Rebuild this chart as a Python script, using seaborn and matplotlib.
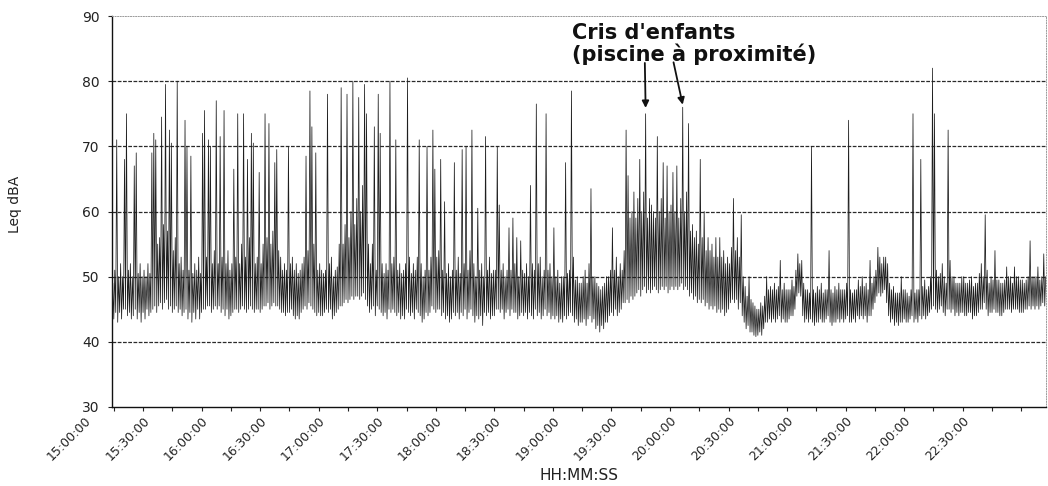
import numpy as np
import pandas as pd
import matplotlib
matplotlib.use("Agg")
import matplotlib.pyplot as plt
import seaborn as sns
from matplotlib.transforms import ScaledTranslation

# Per-minute Leq maxima and minima (dBA), starting at 15:14, grouped by half hour
max_1514 = [49, 51, 71, 50, 52, 50, 68, 75, 51, 52, 50, 67, 69, 50.5, 52, 50]
min_1514 = [44, 43.5, 44.5, 43, 44.5, 43.5, 45, 45, 44, 44.5, 43.5, 44, 45, 43.5, 44.5, 43]

max_1530 = [51, 50, 52, 50.5, 69, 72, 71, 55, 56, 74.5, 58, 79.5, 57, 72.5, 70.5,
            54, 56, 80, 52, 53, 51, 74, 70, 51, 68.5, 50.5, 52, 51, 53, 50.5]
min_1530 = [44.5, 43.5, 45, 44, 44.5, 45, 45.5, 44.5, 45.5, 46, 45, 46, 46.5, 45, 45.5,
            44.5, 45, 45.5, 44.5, 45, 44, 44.5, 45, 43.5, 44.5, 43, 44.5, 43.5, 45, 43.5]

max_1600 = [72, 75.5, 53, 71, 70, 52, 54, 77, 52, 71.5, 53, 75.5, 52, 54, 51,
            52, 66.5, 53, 75, 52, 55, 75, 53, 68, 56, 72, 70.5, 52, 53, 66]
min_1600 = [44.5, 45, 45, 45.5, 45.5, 44.5, 45, 45.5, 45, 45.5, 44.5, 45, 44, 45, 43.5,
            44, 44.5, 45, 45, 44.5, 45, 45.5, 45, 44.5, 45, 45.5, 45, 44.5, 45, 45]

max_1630 = [52, 55, 75, 56, 73.5, 55, 57, 67.5, 69.5, 54, 53, 51, 52, 51, 70,
            52, 53, 51, 52, 50.5, 51, 52, 53, 68.5, 54, 78.5, 73, 55, 69, 51]
min_1630 = [44.5, 45, 45.5, 45.5, 46, 45, 45.5, 46, 45.5, 45.5, 45, 44.5, 44.5, 44, 44.5,
            44.5, 45, 44, 43.5, 44, 43.5, 44.5, 45, 45.5, 45, 46, 45.5, 45, 44.5, 44]

max_1700 = [52, 51, 50.5, 51, 78, 52, 53, 50, 51, 51.5, 55, 79, 55, 58, 78,
            56, 60, 80, 58, 62, 77.5, 60, 64, 79.5, 75, 55, 52, 55, 73, 51]
min_1700 = [44.5, 44, 44, 44.5, 45, 44.5, 45, 43.5, 44, 44.5, 45, 45.5, 45.5, 46, 46.5,
            46, 46.5, 47, 46.5, 47, 47, 46.5, 47, 47.5, 46.5, 45.5, 44.5, 45, 45.5, 44]

max_1730 = [78, 72, 52, 50.5, 52, 51, 80, 52, 53, 71, 51, 52, 50.5, 51, 52,
            80.5, 53, 50.5, 52, 51, 53, 71, 52, 50, 51, 70, 51, 53, 72.5, 66.5]
min_1730 = [45.5, 45, 44.5, 44, 44.5, 43.5, 45, 44.5, 45, 44.5, 44, 44.5, 43.5, 44, 43.5,
            45, 44.5, 44, 44.5, 43.5, 45, 44.5, 44, 43, 43.5, 44.5, 44, 44.5, 45.5, 45]

max_1800 = [53, 54, 68, 51, 61.5, 50.5, 52, 50, 51, 67.5, 51, 53, 50.5, 69.5, 52,
            70, 51, 54, 72.5, 52, 50, 60.5, 51, 52, 50, 71.5, 51, 53, 50.5, 51]
min_1800 = [44.5, 45, 45, 44, 44.5, 43.5, 44, 43, 43.5, 44.5, 44, 44.5, 43.5, 44.5, 44,
            45, 43.5, 44.5, 45, 44, 43, 44, 43.5, 44, 42.5, 44.5, 44, 44.5, 43.5, 44]

max_1830 = [51, 70, 61, 51, 52, 50, 51, 57.5, 51, 59, 52, 56, 50, 55.5, 51,
            50.5, 52, 50, 64, 52, 51, 76.5, 52, 53, 50, 51, 75, 51, 52, 50]
min_1830 = [44, 45, 45, 44.5, 45, 43.5, 44.5, 45, 44, 45, 44.5, 44.5, 43.5, 44, 44.5,
            44, 44.5, 43.5, 44.5, 44, 43.5, 45, 44, 44.5, 43.5, 44, 45, 44, 44.5, 43.5]

max_1900 = [57.5, 50, 51, 49, 50, 50, 67.5, 50.5, 51, 78.5, 53, 49.5, 50, 49, 49,
            50, 51, 49, 52, 63.5, 50, 50, 49, 48.5, 48, 48.5, 49, 50, 50, 51]
min_1900 = [44, 43.5, 44, 43, 43.5, 43, 44, 43.5, 44, 44.5, 44, 43, 43.5, 42.5, 43,
            43, 43.5, 42.5, 43.5, 44, 43, 43.5, 42, 42.5, 41.5, 42.5, 42, 43, 43, 44]

max_1930 = [57.5, 51, 53, 50, 52, 51, 54, 72.5, 65.5, 59, 60, 63, 59, 62, 68,
            60, 63, 75, 59, 62, 61, 60, 59, 71.5, 60, 62, 67.5, 59, 67, 60]
min_1930 = [44.5, 44, 45, 44, 44.5, 45, 46, 46, 46.5, 46, 47, 46.5, 47, 47.5, 48,
            47, 48, 48.5, 47.5, 48, 47.5, 48, 48.5, 48, 47.5, 48, 48.5, 48, 48.5, 47.5]

max_2000 = [61, 66, 60, 67, 59, 62, 76, 60, 63, 73.5, 57, 58, 56, 57, 55,
            68, 56, 60, 54, 56, 54, 55, 53, 56, 53, 56, 53, 54, 52, 53]
min_2000 = [48, 48.5, 48, 48.5, 48, 48.5, 49, 48, 48.5, 48, 47, 47.5, 46.5, 47, 46,
            46.5, 46, 46.5, 45.5, 46, 45, 45.5, 45, 45.5, 44.5, 45, 44.5, 45, 44, 44.5]

max_2030 = [52, 54.5, 62, 54, 56, 53, 59.5, 50, 48.5, 47, 50, 46.5, 46, 45.5, 45,
            45, 46, 45.5, 47, 50, 48, 48.5, 48, 49, 48, 48.5, 52.5, 48, 49, 48]
min_2030 = [45, 46, 46.5, 46, 46.5, 45, 46, 44, 43, 42, 42.5, 41.5, 41.5, 41, 40.8,
            41, 41.5, 41, 42, 43, 43, 43.5, 43, 43.5, 43, 43.5, 44, 43, 43.5, 43]

max_2100 = [48, 48, 49.5, 48.5, 51, 53.5, 52, 52.5, 49, 48, 48, 47.5, 70, 48, 47.5,
            48.5, 48, 49, 47.5, 48, 48, 54, 48, 47.5, 48.5, 48, 49, 48, 48, 48]
min_2100 = [43, 43.5, 44, 44, 45, 47, 47.5, 47, 44, 43, 43.5, 43, 43.5, 43, 42.5,
            43, 43, 43.5, 43, 43, 43.5, 44, 43, 42.5, 43, 43, 43.5, 43, 43.5, 43]

max_2130 = [49, 74, 48, 47.5, 48, 48, 49.5, 48.5, 50, 48.5, 49, 48, 52.5, 49, 50,
            51, 54.5, 53, 52, 53, 53, 52, 49, 48, 48.5, 47.5, 47.5, 47.5, 50, 48]
min_2130 = [43.5, 44, 43, 43, 43.5, 43, 44, 43.5, 44, 43.5, 44, 43, 44, 44, 45,
            46, 47, 47.5, 47, 47.5, 48, 46, 44, 43, 43.5, 42.5, 43, 42.5, 43, 43]

max_2200 = [48, 47.5, 47, 48, 75, 47.5, 48, 48, 68, 48.5, 49.5, 48, 48.5, 50, 82,
            75, 51, 50, 50.5, 52, 50, 49, 72.5, 52.5, 50, 50, 49, 49, 49, 50]
min_2200 = [43.5, 43, 43, 43.5, 44, 43, 43.5, 43, 44, 43.5, 44, 43.5, 44, 44.5, 45,
            45.5, 45, 44.5, 45, 45.5, 44.5, 44, 45, 45, 44.5, 45, 44, 44.5, 44, 44.5]

max_2230 = [50, 49, 49, 49.5, 50, 48.5, 49, 49, 50.5, 52, 50, 59.5, 51, 49, 50,
            49.5, 54, 49.5, 49.5, 49, 49, 49.5, 51.5, 50, 50, 49, 51.5, 50, 50, 49.5]
min_2230 = [44.5, 44, 44, 44.5, 44.5, 43.5, 44, 44, 44.5, 45, 45, 46, 45, 44, 44.5,
            44.5, 45, 44.5, 44.5, 44, 44, 44.5, 45, 45, 45, 44.5, 45, 45, 45, 44.5]

max_2300 = [49.5, 49, 49.5, 50, 55.5, 50, 50, 50, 51.5, 49.5, 50, 53.5, 50]
min_2300 = [44.5, 44.5, 45, 45, 45.5, 45, 45.5, 45, 45.5, 45, 45.5, 46, 45.5]

# Axis labels (minutes after 15:00)
label_minutes = [0, 30, 60, 90, 120, 150, 180, 210, 240, 270, 300, 330, 360, 390, 420, 450]
time_labels = ["15:00:00", "15:30:00", "16:00:00", "16:30:00", "17:00:00", "17:30:00",
               "18:00:00", "18:30:00", "19:00:00", "19:30:00", "20:00:00", "20:30:00",
               "21:00:00", "21:30:00", "22:00:00", "22:30:00"]
y_ticks = [30, 40, 50, 60, 70, 80, 90]

note_text = "Cris d'enfants\n(piscine à proximité)"
note_targets_min = [287.5, 306.5]
note_targets_leq = [75.9, 76.4]

max_parts = [max_1514, max_1530, max_1600, max_1630, max_1700, max_1730, max_1800,
             max_1830, max_1900, max_1930, max_2000, max_2030, max_2100, max_2130,
             max_2200, max_2230, max_2300]
min_parts = [min_1514, min_1530, min_1600, min_1630, min_1700, min_1730, min_1800,
             min_1830, min_1900, min_1930, min_2000, min_2030, min_2100, min_2130,
             min_2200, min_2230, min_2300]
leq_max = np.concatenate([np.asarray(p, dtype=float) for p in max_parts])
leq_min = np.concatenate([np.asarray(p, dtype=float) for p in min_parts])
n = min(len(leq_max), len(leq_min))
leq_max, leq_min = leq_max[:n], leq_min[:n]

# Each minute is traced from its minimum to its maximum, as the recorder trace does
start_minute = 14
minute = start_minute + np.arange(n)
df = pd.DataFrame({
    "minute": np.column_stack([minute, minute + 0.5]).ravel(),
    "leq": np.column_stack([leq_min, leq_max]).ravel(),
})

sns.set_theme(style="ticks")
plt.rcParams["font.family"] = ["DejaVu Sans"]

fig, ax = plt.subplots(figsize=(10.48, 4.86), dpi=100)
fig.subplots_adjust(left=0.1069, right=0.998, bottom=0.1626, top=0.967)

ink = "#1e1e1e"
sns.lineplot(data=df, x="minute", y="leq", ax=ax, color=ink, linewidth=0.55,
             sort=False, zorder=3)

x_lo, x_hi = 14.1, 492.6
ax.set_xlim(x_lo, x_hi)
ax.set_ylim(30, 90)

# Horizontal reference lines
for v in y_ticks[1:-1]:
    ax.axhline(v, color="#2a2a2a", linewidth=0.9, linestyle=(0, (3, 1.2)), zorder=1)

for side in ["left", "bottom"]:
    ax.spines[side].set_color("#111111")
    ax.spines[side].set_linewidth(1.0)
for side in ["top", "right"]:
    ax.spines[side].set_visible(True)
    ax.spines[side].set_color("#9a9a9a")
    ax.spines[side].set_linewidth(0.7)
    ax.spines[side].set_linestyle(":")

ax.set_yticks(y_ticks)
ax.set_yticklabels([str(t) for t in y_ticks])

inside = [(m, t) for m, t in zip(label_minutes, time_labels) if m >= x_lo]
outside = [(m, t) for m, t in zip(label_minutes, time_labels) if m < x_lo]
ax.set_xticks([m for m, _ in inside])
ax.set_xticklabels([t for _, t in inside])
ax.set_xticks([m + 15 for m in label_minutes if x_lo <= m + 15 <= x_hi] + [480], minor=True)

ax.tick_params(axis="y", direction="out", length=3, width=0.8, pad=6,
               labelsize=10, colors="#222222")
ax.tick_params(axis="x", which="both", direction="out", length=3, width=0.8, pad=2,
               labelsize=9, colors="#222222")
for lbl in ax.get_xticklabels():
    lbl.set_rotation(45)
    lbl.set_ha("right")
    lbl.set_va("top")
    lbl.set_rotation_mode("anchor")

# Labels that fall left of the plotted window
shift = ScaledTranslation(0, -(3 + 2) / 72 * 100 / fig.dpi, fig.dpi_scale_trans)
for m, t in outside:
    ax.text(m, 0, t, transform=ax.get_xaxis_transform() + shift, rotation=45,
            ha="right", va="top", rotation_mode="anchor", fontsize=9,
            color="#222222", clip_on=False)

ax.set_xlabel("HH:MM:SS", fontsize=11, color="#222222")
ax.xaxis.set_label_coords(0.5, -0.155)
ax.set_ylabel("Leq dBA", fontsize=10, color="#222222")
ax.yaxis.set_label_coords(-0.096, 0.517)

# Annotation for the children's cries
ax.text(249.7, 88.9, note_text, fontsize=15, fontweight="bold", ha="left", va="top",
        linespacing=1.0, color="#111111", zorder=5)
ax.annotate("", xy=(note_targets_min[0], note_targets_leq[0]), xytext=(287.1, 82.8),
            arrowprops=dict(arrowstyle="-|>", color="#111111", lw=1.3,
                            mutation_scale=10, shrinkA=0, shrinkB=0), zorder=5)
ax.annotate("", xy=(note_targets_min[1], note_targets_leq[1]), xytext=(301.8, 82.9),
            arrowprops=dict(arrowstyle="-|>", color="#111111", lw=1.3,
                            mutation_scale=10, shrinkA=0, shrinkB=0), zorder=5)

fig.savefig("out.png", dpi=100, facecolor="white")
